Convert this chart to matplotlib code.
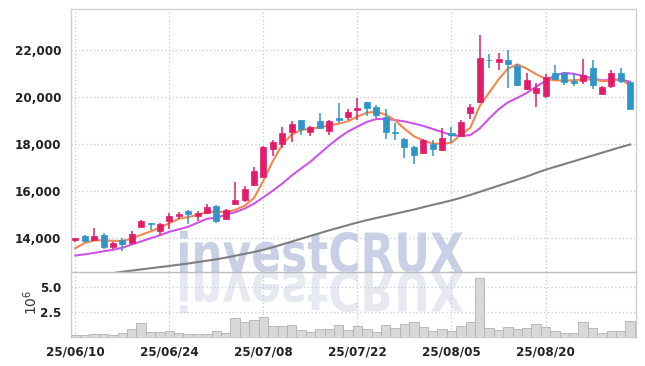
import matplotlib
matplotlib.use("Agg")
import matplotlib.pyplot as plt
import numpy as np
from matplotlib import font_manager as fm
from matplotlib.textpath import TextPath
from matplotlib.patches import PathPatch
from matplotlib.transforms import Affine2D
from matplotlib.font_manager import FontProperties
from matplotlib.ticker import FixedLocator

# ---------------- data ----------------
date_labels = ["25/06/10", "25/06/24", "25/07/08", "25/07/22", "25/08/05", "25/08/20"]
date_label_idx = [0, 10, 20, 30, 40, 50]

opens = [13930, 14100, 13930, 14150, 13620, 13920, 13780, 14500, 14650, 14330,
         14730, 14930, 15170, 14960, 15070, 15380, 14840, 15440, 15610, 16250,
         16600, 17810, 18000, 18500, 19000, 18500, 18960, 18560, 19100, 19160,
         19440, 19780, 19570, 19160, 18530, 18220, 17880, 17610, 18010, 17740,
         18450, 18360, 19330, 19800, 21580, 21480, 21570, 21310, 20320, 20180,
         20030, 21030, 21000, 20660, 20670, 21240, 20140, 20460, 21030, 20650]
highs = [14010, 14120, 14420, 14220, 13830, 14010, 14320, 14790, 14660, 14650,
         15070, 15100, 15190, 15140, 15440, 15425, 15240, 16390, 16230, 17010,
         17900, 18160, 18710, 18970, 19010, 18780, 19300, 19020, 19750, 19500,
         19960, 19800, 19640, 19470, 18900, 18240, 17900, 18230, 18190, 18670,
         18740, 19000, 19680, 22620, 21800, 21880, 21980, 21380, 21030, 20600,
         20960, 21350, 21050, 21020, 21600, 21550, 20480, 21150, 21240, 20650]
lows = [13860, 13890, 13900, 13540, 13560, 13480, 13750, 14480, 14350, 14120,
        14400, 14820, 14620, 14730, 15050, 14670, 14790, 15400, 15560, 16200,
        16580, 17480, 17840, 18090, 18400, 18360, 18650, 18370, 18900, 19040,
        19040, 19210, 19110, 18230, 18190, 17410, 17170, 17580, 17500, 17700,
        18050, 18300, 19070, 19750, 21240, 21140, 20390, 20480, 20300, 19580,
        19940, 20700, 20490, 20460, 20560, 20320, 20060, 20360, 20570, 19470]
closes = [14000, 13900, 14100, 13650, 13800, 13750, 14180, 14715, 14610, 14620,
          14960, 15040, 15010, 15085, 15330, 14730, 15180, 15640, 16090, 16870,
          17860, 18080, 18450, 18840, 18650, 18740, 18690, 18990, 19020, 19370,
          19550, 19510, 19240, 18500, 18460, 17880, 17520, 18180, 17770, 18260,
          18400, 18930, 19580, 21670, 21560, 21600, 21400, 20500, 20710, 20380,
          20830, 20770, 20630, 20570, 20910, 20500, 20430, 21030, 20670, 19470]

ma_short = [13580, 13800, 13910, 13920, 13890, 13890, 13980, 14150, 14290, 14460,
            14640, 14830, 14900, 14990, 15110, 15140, 15100, 15210, 15380, 15710,
            16450, 17270, 17980, 18400, 18590, 18650, 18710, 18800, 18860, 18970,
            19170, 19330, 19370, 19250, 19010, 18650, 18330, 18150, 18020, 18010,
            18060, 18400, 18690, 19610, 20180, 20740, 21200, 21380, 21200, 20960,
            20770, 20700, 20700, 20700, 20740, 20740, 20670, 20690, 20740, 20490]
ma_mid = [13270, 13320, 13380, 13450, 13510, 13600, 13740, 13870, 14000, 14130,
          14280, 14380, 14490, 14660, 14830, 14870, 15000, 15110, 15260, 15470,
          15740, 16020, 16320, 16660, 16960, 17250, 17600, 17940, 18260, 18530,
          18740, 18940, 19060, 19060, 19020, 18960, 18870, 18770, 18640, 18510,
          18380, 18340, 18380, 18660, 19080, 19470, 19770, 19960, 20170, 20430,
          20680, 20910, 21020, 20980, 20890, 20790, 20700, 20720, 20740, 20640]
ma_long = [12280, 12340, 12400, 12460, 12520, 12580, 12630, 12680, 12730, 12780,
           12825, 12880, 12930, 12990, 13050, 13110, 13180, 13260, 13340, 13420,
           13510, 13620, 13740, 13860, 13980, 14100, 14220, 14340, 14450, 14560,
           14670, 14770, 14860, 14950, 15040, 15130, 15220, 15320, 15420, 15510,
           15610, 15720, 15840, 15970, 16100, 16230, 16360, 16490, 16620, 16770,
           16910, 17030, 17150, 17270, 17390, 17510, 17630, 17750, 17870, 17980]

volumes_m = [0.13, 0.13, 0.27, 0.27, 0.13, 0.33, 0.73, 1.33, 0.43, 0.43,
             0.53, 0.33, 0.23, 0.23, 0.27, 0.62, 0.33, 1.83, 1.43, 1.63,
             1.93, 1.07, 1.07, 1.13, 0.63, 0.50, 0.73, 0.73, 1.13, 0.63,
             1.03, 0.73, 0.50, 1.13, 0.83, 1.27, 1.50, 0.93, 0.57, 0.73,
             0.53, 1.07, 1.43, 5.83, 0.83, 0.63, 0.93, 0.73, 0.83, 1.27,
             0.93, 0.53, 0.33, 0.33, 1.43, 0.83, 0.33, 0.53, 0.53, 1.57]

price_ticks = [14000, 16000, 18000, 20000, 22000]
vol_ticks = [2.5, 5.0]

# ---------------- style ----------------
UP = "#e11d6b"
DOWN = "#2d95c8"
GRID = "#c3c8dc"
SPINE = "#cfcfcf"

names = {f.name for f in fm.fontManager.ttflist}
if "Liberation Sans Narrow" in names:
    tick_fp = FontProperties(family="Liberation Sans Narrow", weight="bold", size=10.8)
else:
    tick_fp = FontProperties(family="DejaVu Sans", stretch="condensed", weight="bold", size=9.5)

W, H = 645, 366
fig = plt.figure(figsize=(W / 100, H / 100), dpi=100)
fig.patch.set_facecolor("white")

left, right = 71 / W, 636 / W
p_top, p_bot = 1 - 9 / H, 1 - 272 / H
v_bot = 1 - 336.7 / H

ax = fig.add_axes([left, p_bot, right - left, p_top - p_bot])
axv = fig.add_axes([left, v_bot, right - left, p_bot - v_bot], sharex=ax)
for a in (ax, axv):
    a.set_facecolor("none")

# watermark (behind axes)
wm_fp = FontProperties(family="DejaVu Sans", weight="bold")
tp = TextPath((0, 0), "investCRUX", size=100, prop=wm_fp)
bb = tp.get_extents()
x0, x1 = 180, 463
base = H - 272
cap = 39.5
sx = (x1 - x0) / bb.width
sy = cap / 73.0
tr_main = Affine2D().translate(-bb.x0, 0).scale(sx, sy).translate(x0, base)
tr_refl = Affine2D().translate(-bb.x0, 0).scale(sx, -sy).translate(x0, base)
fig.add_artist(PathPatch(tp, transform=tr_main, facecolor="#c9cfe4", edgecolor="none", zorder=-5))
fig.add_artist(PathPatch(tp, transform=tr_refl, facecolor="#e7e9f1", edgecolor="none", zorder=-5))

idx = np.arange(len(opens))
o = np.array(opens, float); c = np.array(closes, float)
h = np.array(highs, float); l = np.array(lows, float)
up = c >= o
cols = np.where(up, UP, DOWN)

# moving averages
ax.plot(idx, ma_long, color="#7f7f7f", lw=1.5, zorder=2)
ax.plot(idx, ma_mid, color="#cc55e8", lw=1.5, zorder=2)
ax.plot(idx, ma_short, color="#f0884f", lw=1.5, zorder=2)

# candles
ax.vlines(idx, l, h, colors=cols, lw=1.1, zorder=3)
body_lo = np.minimum(o, c)
body_h = np.maximum(np.abs(c - o), 25)
ax.bar(idx, body_h, bottom=body_lo, width=0.64, color=cols, edgecolor=cols, lw=0.5, zorder=4)

ax.set_ylim(12570, 23730)
ax.set_xlim(-0.46, 59.62)
ax.yaxis.set_major_locator(FixedLocator(price_ticks))
ax.set_yticklabels([f"{v:,}" for v in price_ticks])

# volume
axv.bar(idx, volumes_m, width=1.0, color="#d8d8d8", edgecolor="#b2b2b2", lw=0.6, zorder=3)
axv.set_ylim(0, 6.47)
axv.yaxis.set_major_locator(FixedLocator(vol_ticks))
axv.set_yticklabels([f"{v:.1f}" for v in vol_ticks])
axv.xaxis.set_major_locator(FixedLocator(date_label_idx))
axv.set_xticklabels(date_labels)
plt.setp(ax.get_xticklabels(), visible=False)

for a in (ax, axv):
    a.grid(True, color=GRID, linestyle=(0, (1, 2)), lw=0.9, zorder=1)
    a.set_axisbelow(True)
    a.tick_params(length=0, pad=7, colors="#222222")
    for lab in a.get_yticklabels() + a.get_xticklabels():
        lab.set_fontproperties(tick_fp)
        lab.set_color("#222222")
    for s in a.spines.values():
        s.set_color(SPINE)
        s.set_linewidth(1.0)
ax.spines["bottom"].set_color("#bdbdbd")
axv.spines["top"].set_visible(False)
axv.tick_params(axis="x", pad=6)

fig.text(31 / W, 1 - 302 / H, "$10^{6}$", rotation=90, ha="center", va="center",
         fontsize=10, color="#333333")

fig.savefig("out.png", dpi=100, facecolor="white")
